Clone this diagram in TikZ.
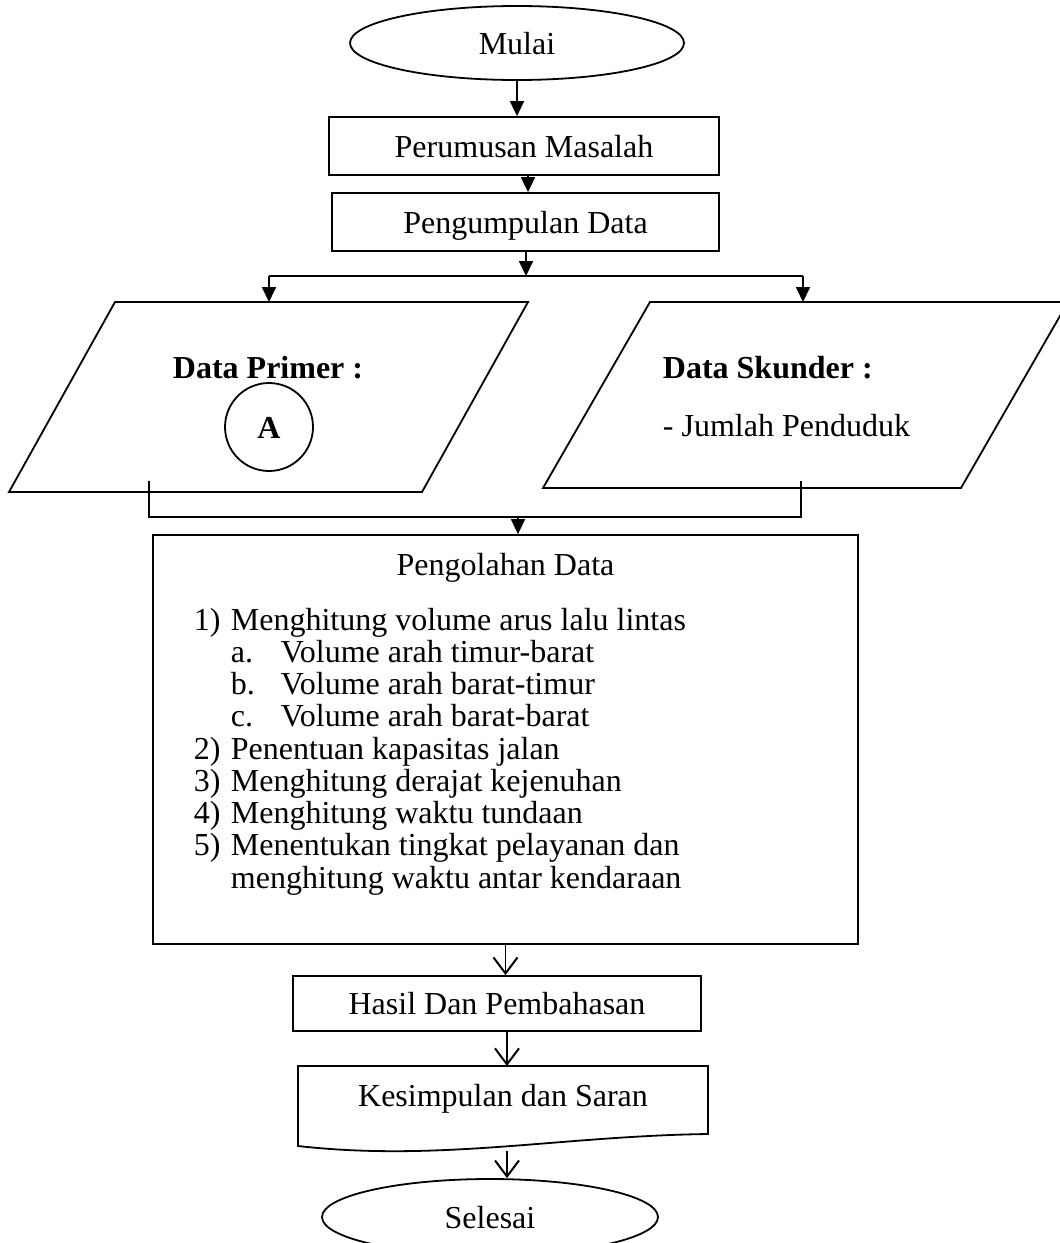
\documentclass[tikz,border=0pt]{standalone}
\usepackage{fontspec}
\setmainfont{Liberation Serif}
\usetikzlibrary{arrows.meta,shapes.geometric}
\begin{document}
\begin{tikzpicture}[x=1pt,y=-1pt, line width=1.8pt,
  font=\fontsize{32}{32.5}\selectfont,
  bold/.style={font=\fontsize{32}{32.5}\selectfont\bfseries},
  box/.style={draw, rectangle, inner sep=0pt, text height=22pt, text depth=0pt},
  term/.style={draw, ellipse, inner sep=0pt, text height=22pt, text depth=0pt},
  arr/.style={-{Triangle[length=15pt,width=14pt]}},
  oarr/.style={-{Straight Barb[length=16pt,width=24pt,line width=2pt]}},
  item/.style={anchor=base west, inner sep=0pt}]
\useasboundingbox (0,0) rectangle (1060,1243);

% terminals and boxes
\node[term, minimum width=334pt, minimum height=74pt] (mulai) at (517,43) {Mulai};
\node[box, minimum width=390pt, minimum height=58pt] (perum) at (524,146) {Perumusan Masalah};
\node[box, minimum width=387pt, minimum height=58pt] (peng) at (525.5,222) {Pengumpulan Data};

\draw[arr] (mulai.south) -- (mulai.south |- perum.north);
\draw[arr] ([xshift=4pt]perum.south) -- ([xshift=4pt]perum.south |- peng.north);

% parallelograms
\draw (115,302) -- (528,302) -- (422,492) -- (9,492) -- cycle;
\draw (650,302) -- (1068,302) -- (961,488) -- (543,488) -- cycle;

\node[bold, anchor=base, inner sep=0pt] (dp) at (268,378) {Data Primer :};
\node[draw, circle, minimum size=88pt, inner sep=0pt, bold, text height=22pt, text depth=0pt] (A) at (269,427) {A};
\node[bold, anchor=base west, inner sep=0pt] (ds) at (662,378) {Data Skunder :};
\node[anchor=base west, inner sep=0pt] (jp) at (662,436) {- Jumlah Penduduk};

% split
\coordinate (j1) at (526,276);
\coordinate (jl) at (269,276);
\coordinate (jr) at (803,276);
\coordinate (pl) at (269,302);
\coordinate (pr) at (803,302);
\draw[arr] (peng.south -| j1) -- (j1);
\draw (jl) -- (jr);
\draw[arr] (jl) -- (pl);
\draw[arr] (jr) -- (pr);

% processing box
\node[draw, rectangle, minimum width=705pt, minimum height=409pt, inner sep=0pt] (olah) at (505.5,739.5) {};

% merge
\coordinate (ql) at (149,481);
\coordinate (qr) at (801,481);
\coordinate (bl) at (149,517);
\coordinate (br) at (801,517);
\coordinate (j2) at (518,517);
\draw (ql) -- (bl) -- (br) -- (qr);
\draw[arr] (j2) -- (j2 |- olah.north);

\node[anchor=base, inner sep=0pt] (t0) at (505.5,575) {Pengolahan Data};
\node[item] (n1) at (193,630) {1)};
\node[item] (l1) at (230,630) {Menghitung volume arus lalu lintas};
\node[item] (na) at (230,662.25) {a.};
\node[item] (la) at (280,662.25) {Volume arah timur-barat};
\node[item] (nb) at (230,694.5) {b.};
\node[item] (lb) at (280,694.5) {Volume arah barat-timur};
\node[item] (nc) at (230,726.75) {c.};
\node[item] (lc) at (280,726.75) {Volume arah barat-barat};
\node[item] (n2) at (193,759) {2)};
\node[item] (l2) at (230,759) {Penentuan kapasitas jalan};
\node[item] (n3) at (193,791.25) {3)};
\node[item] (l3) at (230,791.25) {Menghitung derajat kejenuhan};
\node[item] (n4) at (193,823.5) {4)};
\node[item] (l4) at (230,823.5) {Menghitung waktu tundaan};
\node[item] (n5) at (193,855.75) {5)};
\node[item] (l5) at (230,855.75) {Menentukan tingkat pelayanan dan};
\node[item] (l6) at (230,888) {menghitung waktu antar kendaraan};

% results
\node[box, minimum width=408pt, minimum height=55pt] (hasil) at (497,1003.5) {Hasil Dan Pembahasan};
\draw[oarr] (olah.south) -- (olah.south |- hasil.north);

% document shape
\draw (298,1066) -- (708,1066) -- (708,1134) .. controls (560,1136) and (440,1162) .. (298,1146) -- cycle;
\node[inner sep=0pt, text height=22pt, text depth=0pt] (kes) at (503,1095) {Kesimpulan dan Saran};
\coordinate (k1) at (507,1066);
\draw[oarr] (hasil.south -| k1) -- (k1);

\coordinate (k2) at (507,1151);
\node[term, minimum width=336pt, minimum height=76pt] (sel) at (490,1217) {Selesai};
\draw[oarr] (k2) -- (k2 |- sel.north);
\end{tikzpicture}
\end{document}
